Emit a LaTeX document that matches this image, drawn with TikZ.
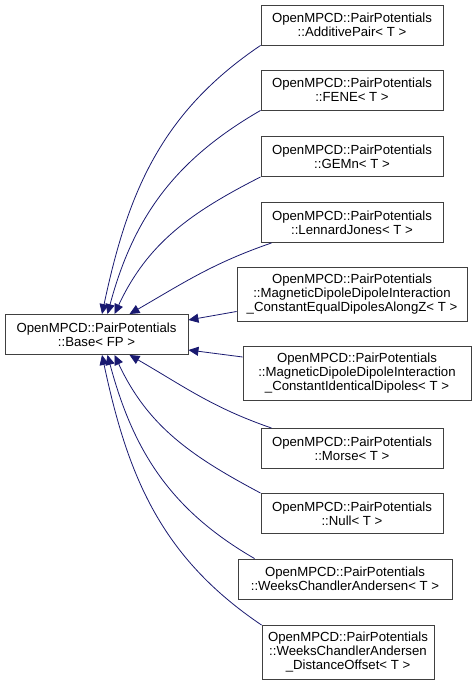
\documentclass[tikz,border=0pt]{standalone}
\usepackage{fontspec}
\setmainfont{Liberation Sans}
\usepackage{xcolor}
\definecolor{doxyedge}{HTML}{191970}
\definecolor{doxyframe}{HTML}{404040}
\usetikzlibrary{arrows.meta}

\begin{document}
\begin{tikzpicture}[
  x=1pt, y=1pt,
  font=\fontsize{13.2}{14}\selectfont,
  cls/.style={rectangle, draw=doxyframe, fill=white, line width=0.9pt,
              align=center, inner sep=0pt, minimum width=182pt, minimum height=40pt},
  cls3/.style={cls, minimum height=54pt},
  a/.style={-{Triangle[length=10pt, width=9pt]}, line width=0.8pt, doxyedge},
]
\useasboundingbox (0,0) rectangle (473,686);

% ---- the base class
\node[cls, minimum width=183pt] (base) at (96.5,351.5)
  {OpenMPCD::PairPotentials\\::Base< FP >};

% ---- derived classes with two text lines
\foreach \n/\y/\t in {add/661/AdditivePair, fene/596/FENE, gemn/529.5/GEMn,
                      lj/463.5/LennardJones, morse/237.5/Morse, null/172.5/Null} {
  \node[cls] (\n) at (352,\y) {OpenMPCD::PairPotentials\\::\t< T >};
}
\node[cls, minimum width=214pt] (wca) at (345,107)
  {OpenMPCD::PairPotentials\\::WeeksChandlerAndersen< T >};

% ---- derived classes with three text lines
\node[cls3, minimum width=230pt] (meq) at (352,391.5)
  {OpenMPCD::PairPotentials\\::MagneticDipoleDipoleInteraction\\\_ConstantEqualDipolesAlongZ< T >};
\node[cls3, minimum width=228pt] (mid) at (357,312.5)
  {OpenMPCD::PairPotentials\\::MagneticDipoleDipoleInteraction\\\_ConstantIdenticalDipoles< T >};
\node[cls3, minimum width=172pt] (wcado) at (348,33.5)
  {OpenMPCD::PairPotentials\\::WeeksChandlerAndersen\\\_DistanceOffset< T >};

% ---- inheritance edges into the top of the base
\foreach \n/\sx/\dx/\o/\i in {add/0/5.5/214/78, fene/0/11/210/75,
                              gemn/0/18/207/65, lj/11/33/199/30} {
  \draw[a] ([xshift=\sx pt]\n.south west) to[out=\o, in=\i] ([xshift=\dx pt]base.north);
}

% ---- inheritance edges into the bottom of the base
\foreach \n/\sx/\dx/\o/\i in {wcado/0/5.5/146/-78, wca/17/11/150/-75,
                              null/0/18/152/-65, morse/11/33/161/-30} {
  \draw[a] ([xshift=\sx pt]\n.north west) to[out=\o, in=\i] ([xshift=\dx pt]base.south);
}

% ---- the two edges into the side of the base
\draw[a] ([yshift=-17pt]meq.west) -- ([yshift=14.5pt]base.east);
\draw[a] ([yshift=16.5pt]mid.west) -- ([yshift=-15.5pt]base.east);
\end{tikzpicture}
\end{document}
